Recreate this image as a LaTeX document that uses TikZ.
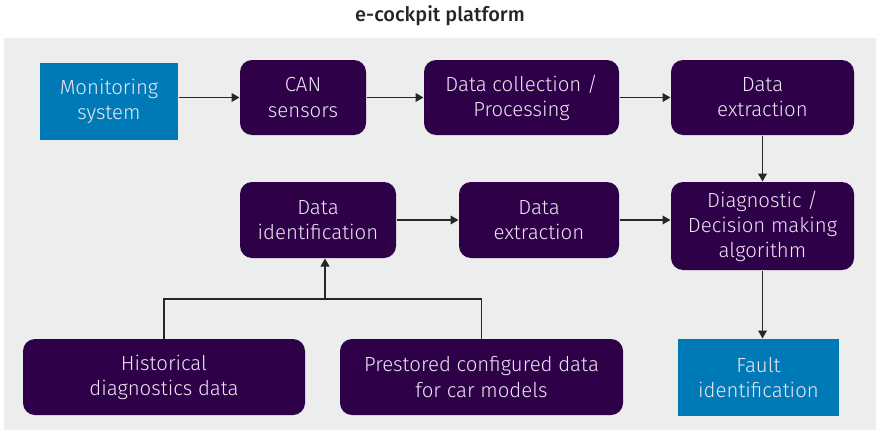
\documentclass[tikz,border=0pt]{standalone}
\usepackage{fontspec}
\setmainfont{Fira Sans}[UprightFont=* Light, BoldFont=* Medium]
\usetikzlibrary{arrows.meta}

\definecolor{aubergine}{RGB}{46,0,72}
\definecolor{ecblue}{RGB}{0,122,182}
\definecolor{panelgray}{RGB}{236,237,237}
\definecolor{arrowgray}{RGB}{38,38,38}
\definecolor{boxtext}{RGB}{236,230,242}

\tikzset{every picture/.style={line width=0.75pt}}
\tikzset{
  box/.style={fill=aubergine, rounded corners=9pt, text=boxtext, align=center,
    inner sep=0pt, font=\fontsize{15.3}{18.8}\selectfont},
  endbox/.style={box, fill=ecblue, rounded corners=0pt},
  arr/.style={draw=arrowgray, line width=1.2pt, -{Triangle[length=6pt,width=6.5pt]}},
  link/.style={draw=arrowgray, line width=1.2pt}
}

\begin{document}
\begin{tikzpicture}[x=0.75pt,y=0.75pt,yscale=-1,xscale=1]
		\useasboundingbox (0,0) rectangle (877,432);

		% Panel
		\fill [panelgray] (4,38) rectangle (876,430);
		% Text Node
		\node (title) at (440,16) [text=arrowgray, font=\bfseries\fontsize{15}{18}\selectfont] {e-cockpit platform};

		% Top row
		\node (mon) at (109,101.5) [endbox, minimum width=103.5pt, minimum height=57.75pt] {Monitoring\\system};
		\node (can) at (303,97.5) [box, minimum width=94.5pt, minimum height=56.25pt] {CAN\\sensors};
		\node (coll) at (521.5,97.5) [box, minimum width=146.25pt, minimum height=56.25pt] {Data collection /\\Processing};
		\node (extA) at (762.5,97.5) [box, minimum width=137.25pt, minimum height=56.25pt] {Data\\extraction};

		% Middle row
		\node (ident) at (318,220) [box, minimum width=117pt, minimum height=57pt] {Data\\identification};
		\node (extB) at (539,220) [box, minimum width=120pt, minimum height=57pt] {Data\\extraction};
		\node (diag) at (762.5,226) [box, minimum width=137.25pt, minimum height=66pt] {Diagnostic /\\Decision making\\algorithm};

		% Bottom row
		\node (hist) at (164,377) [box, minimum width=211.5pt, minimum height=57pt] {Historical\\diagnostics data};
		\node (pre) at (481.5,377) [box, minimum width=212.25pt, minimum height=57pt] {Prestored configured data\\for car models};
		\node (fault) at (758.5,377.5) [endbox, minimum width=120.75pt, minimum height=57.75pt] {Fault\\identification};

		% Connectors
		\draw [arr] (mon.east |- can.west) -- (can.west);
		\draw [arr] (can.east) -- (coll.west);
		\draw [arr] (coll.east) -- (extA.west);
		\draw [arr] (extA.south) -- (diag.north);
		\draw [arr] (ident.east) -- (extB.west);
		\draw [arr] (extB.east) -- (extB.east -| diag.west);
		\draw [arr] (diag.south) -- (diag.south |- fault.north);

		\coordinate (join) at (325,299);
		\draw [link] (hist.north) |- (join) -| (pre.north);
		\draw [arr] (join) -- (join |- ident.south);

\end{tikzpicture}
\end{document}
